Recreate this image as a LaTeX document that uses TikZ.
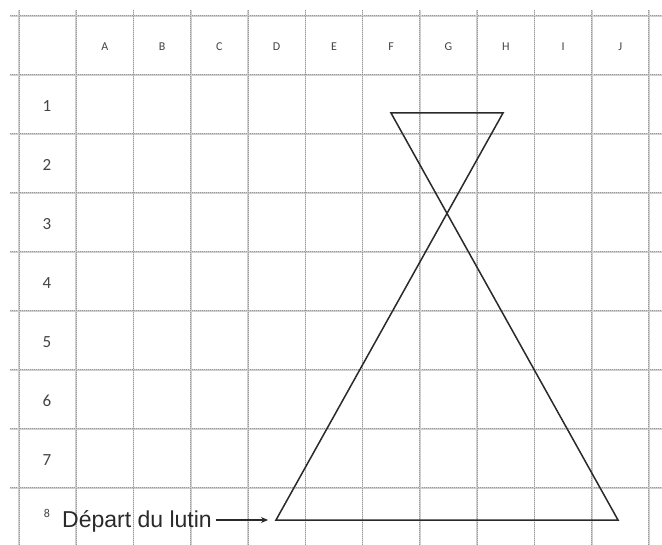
\documentclass[tikz,border=0pt]{standalone}
\usepackage{fontspec}
\setmainfont{Carlito}
\newfontfamily\arialf{Liberation Sans}
\usetikzlibrary{arrows.meta}
\definecolor{inkc}{HTML}{2A2A2A}
\definecolor{labc}{HTML}{444444}
\tikzset{
  gridbase/.style={line width=1.7pt, draw=gray!38},
  griddot/.style={line width=1.0pt, draw=gray!80, densely dotted},
  collab/.style={font=\fontsize{12}{12}\selectfont, text=labc},
  rowlab/.style={font=\fontsize{17}{17}\selectfont, text=labc},
  figline/.style={line width=1.5pt, draw=inkc, line join=miter},
}
\begin{document}
\begin{tikzpicture}[x=1pt,y=-1pt]
\useasboundingbox (0,0) rectangle (662,545);
\fill[white] (0,0) rectangle (662,545);
% grid
\foreach \yy in {16,75,134,193,252,311,370,429,488,547} {
  \draw[gridbase] (10,\yy) -- (662,\yy);
  \draw[griddot] (10,\yy) -- (662,\yy);
}
\foreach \k in {0,...,11} {
  \pgfmathsetmacro{\xx}{19+57.27*\k}
  \draw[gridbase] (\xx,10) -- (\xx,545);
  \draw[griddot] (\xx,10) -- (\xx,545);
}
% column labels
\foreach \L [count=\k] in {A,B,C,D,E,F,G,H,I,J} {
  \pgfmathsetmacro{\cx}{19+57.27*\k+28.6}
  \node[collab] (col\L) at (\cx+0,47) {\L};
}
% row labels
\foreach \r in {1,...,7} {
  \pgfmathsetmacro{\cy}{75+59*(\r-1)+31}
  \node[rowlab] (row\r) at (47,\cy) {\r};
}
\node[font=\fontsize{12}{12}\selectfont, text=labc] (row8) at (47,513) {8};
% figure
\coordinate (BL) at (276,520);
\coordinate (BR) at (618,520);
\coordinate (TL) at (391,113);
\coordinate (TR) at (503,113);
\draw[figline] (BL) -- (TR) -- (TL) -- (BR) -- cycle;
% start label
\node[anchor=base west, inner sep=1pt, font=\arialf\fontsize{23}{23}\selectfont, text=inkc] (dep) at (61,527) {Départ du lutin};
\draw[line width=1.2pt, draw=inkc, -{Stealth[length=7pt,width=6pt]}, shorten <=3pt, shorten >=8pt] (dep.east |- BL) -- (BL);
\end{tikzpicture}
\end{document}
